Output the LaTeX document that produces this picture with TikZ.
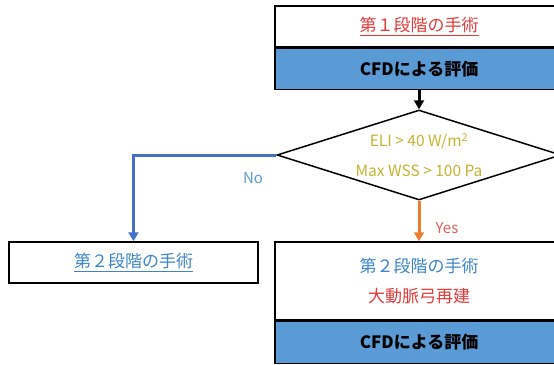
\documentclass[tikz,border=0pt]{standalone}
\usepackage{fontspec}
\setmainfont{Noto Sans CJK JP}
\usepackage{xcolor}
\usetikzlibrary{positioning, calc, shapes.geometric, arrows.meta}

\definecolor{boxblue}{RGB}{91,155,213}
\definecolor{noblue}{RGB}{68,114,196}
\definecolor{nolabel}{RGB}{91,155,213}
\definecolor{txtred}{RGB}{226,58,58}
\definecolor{txtblue}{RGB}{62,132,200}
\definecolor{condyellow}{RGB}{196,180,48}
\definecolor{yesorange}{RGB}{237,125,49}
\definecolor{yeslabel}{RGB}{222,96,96}

\begin{document}
\begin{tikzpicture}[x=1pt, y=-1pt,
    box/.style={draw, line width=1.5pt, minimum width=288pt, inner sep=0pt, font=\fontsize{17}{20}\selectfont},
    flow/.style={line width=3pt, -{Triangle[length=9pt, width=10pt]}}]
    \clip (0,0) rectangle (554,364);
    \node[box, minimum height=41pt] (stage1) at (419,26.5) {\textcolor{txtred}{\underline{第１段階の手術}}};
    \node[box, fill=boxblue, minimum height=41pt, below=0pt of stage1] (cfd1) {\bfseries CFDによる評価};
    \node[diamond, draw, line width=1.5pt, aspect=3.15, minimum width=284pt, minimum height=90pt, inner sep=0pt,
          align=center, text=condyellow, font=\fontsize{15.5}{30}\selectfont] (cond) at (419,155) {ELI > 40 W/m\textsuperscript{2}\\Max WSS > 100 Pa};
    \node[box, minimum width=249pt, minimum height=41pt] (stage2) at (133.5,262.5) {\textcolor{txtblue}{\underline{第２段階の手術}}};
    \node[box, minimum height=78pt, align=center, font=\fontsize{17}{30}\selectfont] (stage2b) at (419,281) {\textcolor{txtblue}{第２段階の手術}\\\textcolor{txtred}{大動脈弓再建}};
    \node[box, fill=boxblue, minimum height=42pt, below=0pt of stage2b] (cfd2) {\bfseries CFDによる評価};
    \draw[flow] (cfd1.south) -- (cond.north);
    \draw[flow, noblue] (cond.west) -| (stage2.north);
    \draw[flow, yesorange] (cond.south) -- (stage2b.north);
    \node[text=nolabel, font=\fontsize{15}{17}\selectfont] (lblNo) at (253,178) {No};
    \node[text=yeslabel, font=\fontsize{15}{17}\selectfont] (lblYes) at (447,228) {Yes};
\end{tikzpicture}
\end{document}
